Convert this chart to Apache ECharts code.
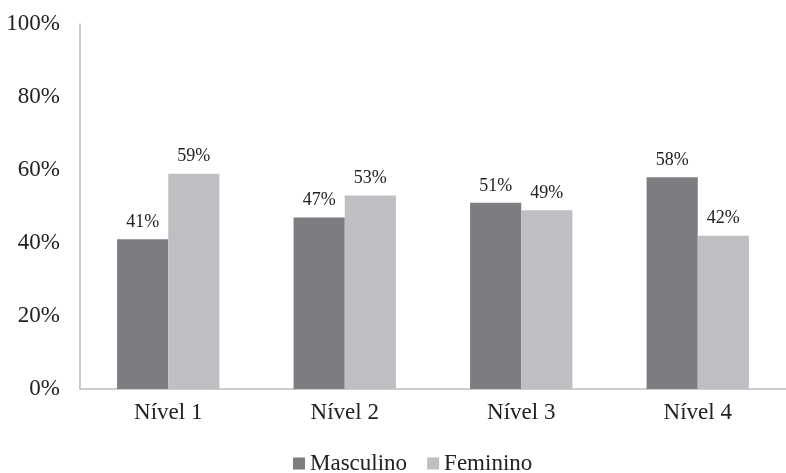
<!DOCTYPE html>
<html>
<head>
    <meta charset="utf-8">
    <title>ECharts</title>
    <script src="https://cdn.jsdelivr.net/npm/echarts@6/dist/echarts.min.js"></script>
    <style>
        html, body { margin: 0; padding: 0; background: #fff; }
    </style>
</head>
<body>
    <div id="main" style="width: 786px;height:473px;"></div>
    <script type="text/javascript">
        // dados do gráfico
        var niveis = ['Nível 1', 'Nível 2', 'Nível 3', 'Nível 4'];
        var masculino = [41, 47, 51, 58];
        var feminino = [59, 53, 49, 42];

        var fonte = '"Liberation Serif", "Times New Roman", serif';
        var myChart = echarts.init(document.getElementById('main'));

        myChart.setOption({
            animation: false,
            textStyle: { fontFamily: fonte },
            grid: { left: 80, right: 0, top: 24, bottom: 84 },
            legend: {
                data: ['Masculino', 'Feminino'],
                left: 288,
                top: 447,
                itemWidth: 12,
                itemHeight: 12,
                itemGap: 20,
                icon: 'rect',
                textStyle: { fontFamily: fonte, fontSize: 23, color: '#222' }
            },
            xAxis: {
                type: 'category',
                data: niveis,
                axisLine: { lineStyle: { color: '#bdbdbd', width: 1.5 } },
                axisTick: { show: false },
                axisLabel: { fontFamily: fonte, fontSize: 23, color: '#222', margin: 12 }
            },
            yAxis: {
                type: 'value',
                min: 0,
                max: 100,
                interval: 20,
                axisLine: { show: true, lineStyle: { color: '#bdbdbd', width: 1.5 } },
                axisTick: { show: false },
                splitLine: { show: false },
                axisLabel: {
                    fontFamily: fonte, fontSize: 23, color: '#222', margin: 20,
                    padding: [5, 0, 0, 0],
                    formatter: '{value}%'
                }
            },
            series: [{
                name: 'Masculino',
                type: 'bar',
                data: masculino,
                barWidth: '29%',
                barGap: '0%',
                itemStyle: { color: '#7c7d81' },
                label: {
                    show: true, position: 'top', distance: 8,
                    fontFamily: fonte, fontSize: 18, color: '#222',
                    formatter: '{c}%'
                }
            }, {
                name: 'Feminino',
                type: 'bar',
                data: feminino,
                barWidth: '29%',
                barGap: '0%',
                itemStyle: { color: '#bebfc3' },
                label: {
                    show: true, position: 'top', distance: 8,
                    fontFamily: fonte, fontSize: 18, color: '#222',
                    formatter: '{c}%'
                }
            }]
        });
    </script>
</body>
</html>
